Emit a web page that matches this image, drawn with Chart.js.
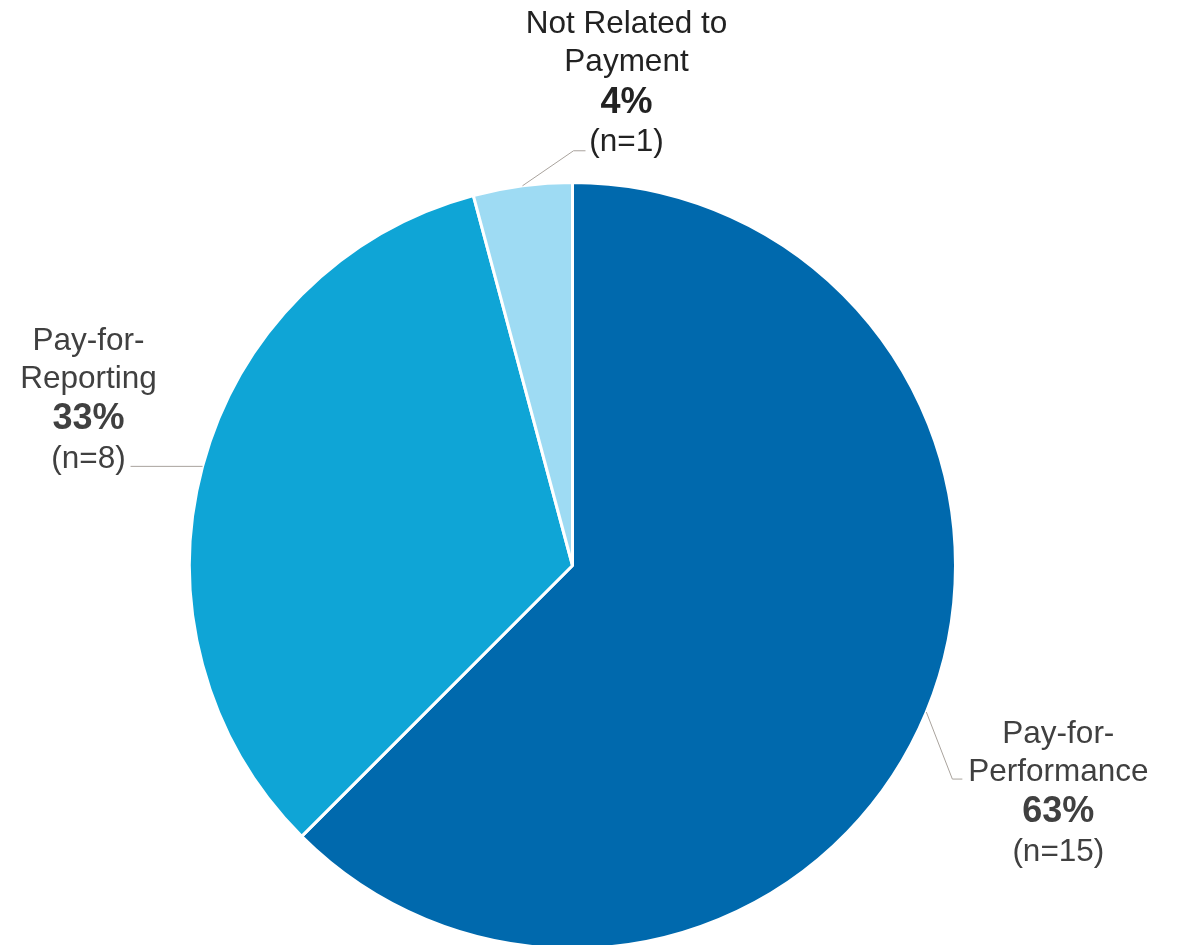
<!DOCTYPE html>
<html>
<head>
<meta charset="utf-8">
<script src="https://cdn.jsdelivr.net/npm/chart.js@4"></script>
<style>
  html, body { margin: 0; padding: 0; background: #ffffff; overflow: hidden; }
  #wrap { width: 1178px; height: 950px; position: relative; }
</style>
</head>
<body>
<div id="wrap"><canvas id="chart"></canvas></div>
<script>
// Payment link of measures
const categories = ['Pay-for-Performance', 'Pay-for-Reporting', 'Not Related to Payment'];
const counts = [15, 8, 1];
const percentLabels = ['63%', '33%', '4%'];
const labelLines = [['Pay-for-', 'Performance'], ['Pay-for-', 'Reporting'], ['Not Related to', 'Payment']];
const sliceColors = ['#0069AD', '#0FA5D6', '#9EDBF3'];
const textColors = ['#404040', '#404040', '#222222'];

// Label placement relative to each slice's outer mid-point:
// leader elbow offset, leader end offset, text block centre offset
const labelLayout = [
  { elbow: [26, 67], end: [36, 67], text: [132, 22] },
  { elbow: [-72, 0], end: [-72, 0], text: [-114, -125] },
  { elbow: [51, -35], end: [63, -35], text: [104, -161] }
];

const lineOffsets = [0, 38, 78, 118];

const outsideLabels = {
  id: 'outsideLabels',
  afterDatasetsDraw(chart) {
    const ctx = chart.ctx;
    const meta = chart.getDatasetMeta(0);
    meta.data.forEach((arc, i) => {
      const mid = (arc.startAngle + arc.endAngle) / 2;
      const ax = arc.x + Math.cos(mid) * arc.outerRadius;
      const ay = arc.y + Math.sin(mid) * arc.outerRadius;
      const L = labelLayout[i];
      ctx.save();
      ctx.strokeStyle = '#A9A39D';
      ctx.lineWidth = 1;
      ctx.beginPath();
      ctx.moveTo(ax, ay);
      ctx.lineTo(ax + L.elbow[0], ay + L.elbow[1]);
      ctx.lineTo(ax + L.end[0], ay + L.end[1]);
      ctx.stroke();

      const tx = ax + L.text[0];
      const ty = ay + L.text[1];
      ctx.fillStyle = textColors[i];
      ctx.textAlign = 'center';
      ctx.textBaseline = 'middle';
      const lines = [labelLines[i][0], labelLines[i][1], percentLabels[i], '(n=' + counts[i] + ')'];
      lines.forEach((t, k) => {
        ctx.font = (k === 2 ? 'bold 36px' : '31.5px') + ' "Liberation Sans", Arial, sans-serif';
        ctx.fillText(t, tx, ty + lineOffsets[k]);
      });
      ctx.restore();
    });
  }
};

new Chart(document.getElementById('chart'), {
  type: 'pie',
  data: {
    labels: categories,
    datasets: [{
      data: counts,
      backgroundColor: sliceColors,
      borderColor: '#ffffff',
      borderWidth: 3
    }]
  },
  options: {
    responsive: true,
    maintainAspectRatio: false,
    animation: false,
    rotation: 0,
    layout: { padding: { left: 188, right: 221, top: 181, bottom: 0 } },
    plugins: {
      legend: { display: false },
      tooltip: { enabled: false }
    }
  },
  plugins: [outsideLabels]
});
</script>
</body>
</html>
